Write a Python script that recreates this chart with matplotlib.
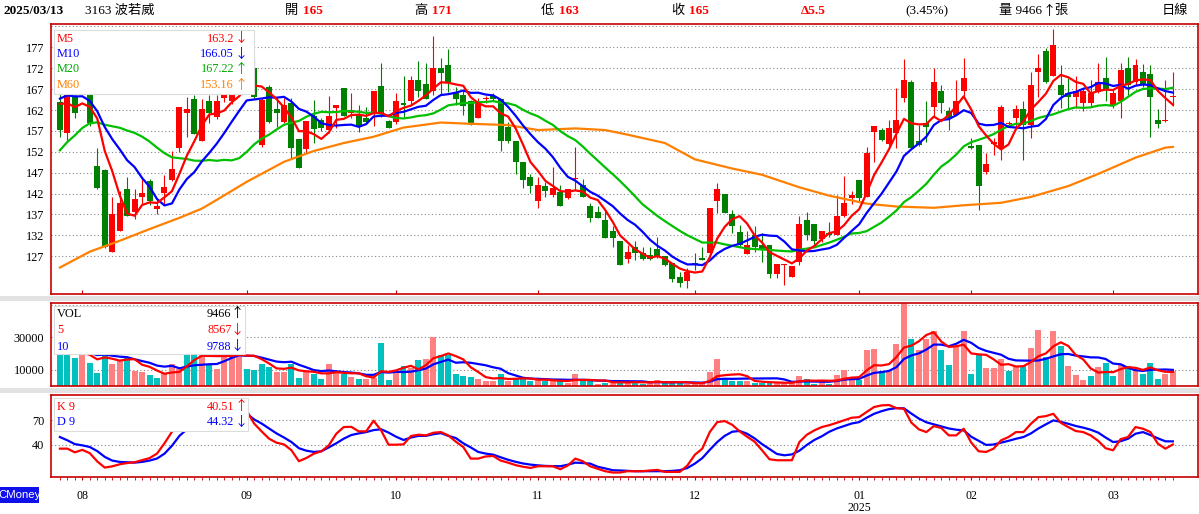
import numpy as np
import pandas as pd
import matplotlib
matplotlib.use("Agg")
import matplotlib.pyplot as plt
from matplotlib.patches import Rectangle

plt.rcParams['font.family'] = ['Liberation Serif', 'Noto Sans CJK TC', 'DejaVu Sans']

# daily sessions 2024/07/29 .. 2025/03/13 (150 candles)
opens = [164, 156.4, 165.2, 166.5, 168, 148.6, 147.6, 128.1, 133.1, 143.1,
         137.7, 141.3, 145.1, 138.2, 142.2, 145.2, 152.8, 161.2, 164.6, 154.6,
         164.2, 160.4, 164.8, 164.2, 166, 169.5, 172, 153.6, 167.6, 162.2,
         159.2, 163.6, 155, 152.7, 160.6, 159.6, 157.2, 162.4, 167.2, 161.4,
         161, 160, 161, 167.7, 159.4, 159.2, 163.7, 164.1, 169.2, 168.2,
         166.6, 172, 172.8, 166, 165.6, 164.1, 160.2, 164.6, 165.4, 164.6,
         158, 154.6, 149.6, 146, 140.3, 143.7, 141.7, 142.4, 140.9, 145.4,
         144, 139, 137.5, 135.7, 133.1, 130.6, 126.3, 129.3, 127.7, 127.4,
         128.7, 127.1, 125.5, 122, 121.2, 125.5, 126.5, 127.7, 140.3, 142,
         137.1, 132.7, 127.5, 132.1, 129.7, 129.7, 122.8, 125, 122.1, 125.7,
         135.7, 134.7, 131.1, 132.6, 132.1, 136.7, 140.9, 145.2, 141.3, 156.8,
         157.1, 153.8, 156.4, 164.8, 168.6, 154.6, 158.8, 162.8, 166.5, 161.8,
         160.8, 166.5, 153.3, 153.6, 147.2, 153.8, 152.8, 158.6, 160, 162.2,
         158.4, 171.2, 176.1, 170.1, 168.1, 166, 165.2, 163.7, 163.7, 166.4,
         169.6, 163.2, 164.2, 172, 168.6, 171, 170.5, 159.6, 159.4, 165]
highs = [166, 169, 166, 169.5, 168.5, 153, 147.8, 141.1, 142.7, 146,
         143.2, 145.4, 145.4, 140.5, 146.4, 152.2, 162.8, 165.2, 165.6, 164.6,
         165.6, 165.6, 166.5, 167, 170, 174, 174.5, 164.8, 168, 164.8,
         164.8, 164.8, 155, 159.4, 164.4, 160, 165.3, 163.2, 167.2, 166,
         163.2, 162.8, 166.5, 173.3, 159.6, 166, 170.1, 170.1, 173.8, 173.3,
         179.7, 174.4, 176.6, 167.6, 166.8, 164.4, 164.8, 165.4, 166, 164.6,
         159.2, 154.6, 149.6, 146.8, 146, 144.8, 148.4, 144, 143.1, 153.1,
         145.6, 139.8, 139, 138, 134.2, 130.6, 129.7, 130.6, 129.3, 129.3,
         131.7, 127.1, 125.5, 123.3, 124.1, 127.9, 129.3, 138.6, 144.6, 142,
         138, 134.6, 133, 134.2, 132.6, 129.7, 125.2, 125.2, 124.7, 136.6,
         137.7, 134.7, 133.1, 135.3, 141.7, 146.2, 142.6, 145.2, 153.1, 158.2,
         157.6, 159.6, 167.2, 174.1, 169.2, 158.4, 164.1, 172, 168.1, 162.8,
         169.2, 174.4, 155.2, 153.6, 151.6, 155.2, 163.2, 159.4, 163.2, 164.1,
         171.2, 175.5, 176.8, 181.5, 172.8, 169.6, 170.1, 167.2, 169.2, 173.2,
         174.6, 166.8, 173.2, 174.6, 174.1, 172.9, 172.8, 162.2, 169.2, 171]
lows = [155.6, 154.4, 160, 165.8, 158.2, 143, 129, 128.1, 133, 136.7,
        135.9, 139.3, 139.3, 137, 139.3, 145, 152, 155.6, 156.2, 154.6,
        158.8, 159.8, 164, 163.5, 165.5, 168.5, 164.8, 153.2, 158.8, 158,
        158.8, 150.4, 148.2, 151.6, 154.2, 157, 156.6, 157.6, 160.6, 160,
        156.8, 158.8, 158.2, 160.4, 157.6, 158.6, 160, 163.2, 165.2, 164.6,
        165.6, 165.6, 166.4, 163.2, 160.8, 158.4, 160.2, 163.6, 164.4, 152.2,
        154.2, 146.8, 143.3, 142.1, 138.6, 141.3, 141.3, 139.1, 140.8, 142.9,
        141.3, 135.3, 136.2, 131.3, 129.3, 124.8, 125.5, 126.1, 126.2, 126.2,
        126.6, 124.7, 120.9, 119.7, 119.3, 123.7, 126, 127.7, 137.3, 137.3,
        132.6, 129.5, 127.5, 128.1, 125.7, 121.7, 121.7, 120.1, 122.1, 124.9,
        130.9, 129.7, 130.5, 131.7, 132, 136.5, 139.6, 140.2, 141.3, 149.6,
        154.6, 153.5, 152.8, 163.8, 152.8, 153.4, 154.4, 160.4, 161.2, 157.2,
        160.8, 165.3, 152.6, 138, 146.7, 151.2, 150, 158, 157.6, 150,
        155.2, 165.2, 168.4, 170.1, 162.4, 162.4, 162.4, 161.8, 162.8, 166,
        164.1, 162.4, 160.2, 165.6, 168, 167.6, 155.6, 157.8, 159.2, 163]
closes = [157.2, 168, 161.2, 168.5, 158.8, 143.3, 129.3, 137.1, 139.7, 136.7,
          140.7, 142.1, 140.3, 139, 143.5, 148, 162.8, 162.2, 156.2, 162.2,
          161.2, 164.2, 165.6, 166, 169.5, 173, 165.2, 164.4, 159.2, 161.2,
          163.2, 152.8, 148.2, 159.4, 157.4, 157.6, 160.6, 163.2, 160.6, 162,
          158, 159.2, 166.5, 161, 157.8, 164.1, 163.2, 169.2, 166.6, 164.6,
          172, 170.8, 168.6, 164.6, 163, 158.4, 163.6, 164.8, 164.6, 154.6,
          154.6, 149.6, 145.2, 143.7, 144, 142.7, 143.4, 139.1, 143.1, 145.5,
          141.3, 136.2, 136.2, 131.3, 131.3, 124.9, 128, 127.7, 126.3, 126.3,
          126.9, 124.8, 121.6, 120.7, 123.3, 125.1, 126.1, 138.6, 143.1, 137.3,
          134.3, 129.7, 129.7, 129.1, 128.7, 122.8, 125.2, 125.1, 124.7, 134.7,
          132.1, 130.7, 133.1, 132.2, 136.6, 139.8, 141.7, 140.9, 151.6, 158.2,
          154.8, 157.6, 159.6, 169.2, 152.8, 153.6, 158, 168.6, 163.7, 160.2,
          164.1, 169.7, 153, 143.7, 149, 154.3, 162.8, 159, 162.2, 158.4,
          168.1, 172, 168.8, 177.5, 165.6, 165.2, 166.5, 166.5, 166, 168.6,
          166.8, 166, 171.6, 168.1, 172.8, 168.1, 165.2, 158.6, 159.5, 165]
# closes of the 19 sessions before the window (for the moving averages)
closes_before = [128, 130, 133, 136, 139, 141, 144, 147, 150, 152,
                 160, 164, 168, 170, 168, 167, 166, 164, 163]

volumes = [22000, 20000, 17300, 22000, 14300, 8200, 26000, 13300, 16100, 17700,
           9400, 8800, 6900, 4700, 7800, 13300, 10600, 24000, 24000, 21000,
           12600, 10200, 24000, 25000, 24000, 10200, 9600, 13700, 11800, 8800,
           8800, 13300, 5100, 9200, 7100, 4100, 13300, 8800, 7100, 5700,
           4100, 4100, 5000, 26500, 3500, 8800, 12200, 11000, 15700, 16300,
           30000, 19000, 19000, 7500, 6300, 5700, 4500, 3300, 3300, 7500,
           2900, 5100, 4500, 2900, 4100, 2900, 3300, 2900, 2000, 7500,
           2900, 3300, 1400, 2000, 2000, 2400, 3100, 2400, 1400, 2000,
           3900, 2000, 2000, 2000, 1400, 1400, 1800, 8800, 16700, 4500,
           3300, 2900, 2900, 2000, 2000, 2000, 2000, 2000, 2000, 6300,
           4500, 1500, 2400, 1400, 6900, 10000, 5100, 3500, 22400, 22800,
           9200, 9200, 25500, 51200, 29000, 22400, 28600, 34000, 22400, 12600,
           24500, 33500, 7100, 19400, 11200, 10800, 16700, 9000, 12200, 12200,
           23500, 34500, 17700, 33900, 24500, 12400, 6900, 3900, 6300, 11800,
           14100, 6300, 13300, 12200, 10000, 7500, 14100, 4500, 7500, 9466]
volumes_before = [20000, 22000, 19000, 24000, 21000, 23000, 20000, 22000, 21000]
vol_dir = ("DDDUDDDUUD" "UUDDUUUDDU" "DUUUUDDDDU" "UDDUDDUUDU" "DUUDDUDUDU"
           "UDDDDDUUUD" "UDDDUDUDUU" "DDUDUDUDDU" "UDDDUUUUUD" "DDUDDDUUUU"
           "DDUDUUUDUU" "DUUUDUUUDD" "UUDDUUUDUD" "UUDUDUUUDU" "DDUDUDDDUU")

k9 = [35.5, 35.5, 31, 34, 30, 20, 12.5, 14, 16.5, 18,
      19, 21.5, 24, 29.5, 42, 56, 68, 74, 72, 78,
      76, 82, 85, 88, 90, 82, 66, 56.5, 47.6, 42.7,
      40.7, 33.5, 20.2, 24.2, 29.4, 32.3, 39.5, 53.6, 61.7, 62,
      56.5, 56.5, 69.4, 57.7, 40.3, 40.3, 40.7, 50.8, 52.4, 51.6,
      54.8, 55.6, 51.6, 44, 37.5, 23.4, 23.4, 26, 26.6, 21,
      18.5, 15.5, 13.5, 12.1, 14.1, 14.1, 14.1, 10.5, 15, 23.4,
      20.2, 14, 11, 8.1, 6.5, 6.5, 8.1, 8.1, 8.1, 9,
      9.7, 7.3, 7.3, 7.3, 15, 28, 35.5, 55.6, 67.7, 69,
      64.5, 56.5, 50, 44, 33.5, 22.6, 21.4, 21.4, 21.4, 43.5,
      52.4, 57.7, 61.7, 64, 66.9, 70, 73, 73.8, 80, 86,
      88, 88.5, 84.7, 83.9, 67, 58.9, 55.6, 62.9, 60.5, 51.6,
      51.6, 59.7, 43, 32.3, 31.5, 35.5, 45.6, 49.6, 55.6, 55.6,
      65.7, 73.8, 75, 77.8, 66.9, 61.7, 56.9, 55.6, 51.6, 45,
      36, 33.5, 47, 49.6, 61.7, 59.7, 55.6, 41.5, 35.5, 40.51]
d9 = [49.6, 45.6, 41, 39.5, 37.5, 32.5, 25.5, 21, 19.4, 19,
      18.5, 19.4, 21, 23.5, 29.4, 39, 51, 59, 63, 68,
      70, 74, 78, 81, 84, 78, 71, 66, 60, 54,
      49, 43.5, 36, 33, 31.5, 32.3, 37, 42, 47.6, 52,
      54, 55.6, 58, 59, 55, 50, 46, 49, 51, 51,
      53, 54.4, 51, 48.4, 42, 37, 31.5, 29.5, 28.2, 25,
      22, 19.5, 17.5, 16.1, 15.2, 14.5, 14.3, 14.1, 16, 18.5,
      18, 17.3, 13.5, 11.5, 9.3, 9, 8.5, 8.1, 8.1, 8.1,
      8.1, 8.1, 8.5, 9.3, 12, 17.3, 24, 34, 43.5, 51,
      56, 57, 53.6, 48, 41, 35, 29, 27.4, 28.5, 33,
      40, 46, 50.5, 56, 60, 63, 66, 67.7, 73, 77.8,
      81, 83.5, 84.7, 84.5, 78, 72, 67.5, 65, 62.5, 60,
      58.5, 57.7, 50, 45, 40, 40.5, 42.7, 45, 47.5, 49.6,
      54, 60, 65, 69.8, 68, 65.7, 63, 61, 58.5, 55,
      49, 43.5, 44.5, 47.5, 53.6, 55.6, 52, 48, 44.4, 44.32]

# 60-day average (session index, value)
ma60_idx = [0, 4, 8, 12, 16, 19, 21, 25, 30, 34, 38, 42, 46, 51, 55, 60, 64, 69, 73, 76,
            78, 81, 85, 90, 94, 99, 103, 108, 112, 117, 121, 126, 130, 135, 139, 144, 148, 149]
ma60_val = [124.3, 128.1, 130.7, 133.5, 136.2, 138.4, 140.5, 144.8, 149.6, 152.2,
            154.1, 155.6, 157.8, 159.0, 158.7, 158.4, 157.2, 157.6, 157.2, 156.1,
            155.3, 154.1, 150.2, 148.0, 146.5, 143.5, 141.5, 139.6, 138.9, 138.6,
            139.2, 139.8, 141.2, 143.8, 146.7, 150.6, 153.0, 153.16]

month_idx = [3, 25, 45, 64, 85, 107, 122, 141]
month_lbl = ["08", "09", "10", "11", "12", "01\n2025", "02", "03"]
price_ticks = [127, 132, 137, 142, 147, 152, 157, 162, 167, 172, 177]
price_grid = price_ticks + [182]

RED = '#ff0000'
GREEN = '#008000'
BLUE = '#0000ff'
LGREEN = '#00c000'
ORANGE = '#ff8000'
BORDER = '#c80000'
ARROW_FONT = ['Noto Sans CJK TC', 'DejaVu Sans']

W, H = 1199, 514
fig = plt.figure(figsize=(W / 100, H / 100), dpi=100)


def rect(top, bottom, left=50.5, right=1197.5):
    return [left / W, 1 - bottom / H, (right - left) / W, (bottom - top) / H]


def fx(px):
    return px / W


def fy(py):
    return 1 - py / H


# grey separator bands
for t, b in [(295.5, 301), (387.5, 393)]:
    fig.add_artist(Rectangle((0, fy(b)), 1, (b - t) / H, transform=fig.transFigure,
                             facecolor='#e2e2e2', edgecolor='none', zorder=0))

ax_p = fig.add_axes(rect(23.5, 294.3))
ax_v = fig.add_axes(rect(302.7, 386))
ax_k = fig.add_axes(rect(394.7, 477.3))

n = len(closes)
x = np.arange(n)
o = np.array(opens)
h = np.array(highs)
l = np.array(lows)
c = np.array(closes)

cs = pd.Series(closes_before + closes)
off = len(closes_before)
ma5 = cs.rolling(5).mean().values[off:]
ma10 = cs.rolling(10).mean().values[off:]
ma20 = cs.rolling(20).mean().values[off:]

vs = pd.Series(volumes_before + volumes)
voff = len(volumes_before)
vma5 = vs.rolling(5).mean().values[voff:]
vma10 = vs.rolling(10).mean().values[voff:]

for ax in (ax_p, ax_v, ax_k):
    ax.set_xlim(-1.26, 152.3)
    for s in ax.spines.values():
        s.set_color(BORDER)
        s.set_linewidth(1.2)
    ax.tick_params(axis='y', length=0, labelsize=8.8, pad=4.5)

# price panel
for g in price_grid:
    ax_p.axhline(g, color='#8a8a8a', lw=0.8, ls=(0, (1, 2.2)), zorder=0)
up = c >= o
col = np.where(up, RED, GREEN)
ax_p.vlines(x, l, h, colors=col, lw=0.8, zorder=2)
body = np.maximum(np.abs(c - o), 0.25)
ax_p.bar(x, body, bottom=np.minimum(o, c), width=0.8, color=col, zorder=2)
ax_p.plot(ma60_idx, ma60_val, color=ORANGE, lw=1.6, zorder=3)
ax_p.plot(x, ma20, color=LGREEN, lw=1.6, zorder=3)
ax_p.plot(x, ma10, color=BLUE, lw=1.6, zorder=3)
ax_p.plot(x, ma5, color=RED, lw=1.6, zorder=3)
ax_p.set_ylim(117.9, 182.7)
ax_p.set_yticks(price_ticks)
ax_p.set_xticks(month_idx)
ax_p.tick_params(axis='x', direction='in', length=3, color=BORDER, labelbottom=False)

# volume panel
for g in [10000, 30000, 50000]:
    ax_v.axhline(g, color='#8a8a8a', lw=0.8, ls=(0, (1, 2.2)), zorder=0)
vcol = ['#ff8080' if d == 'U' else '#00c0c0' for d in vol_dir]
ax_v.bar(x, volumes, width=0.8, color=vcol, zorder=2)
ax_v.plot(x, vma10, color=BLUE, lw=1.6, zorder=3)
ax_v.plot(x, vma5, color=RED, lw=1.6, zorder=3)
ax_v.set_ylim(0, 51160)
ax_v.set_yticks([10000, 30000])
ax_v.set_yticklabels(['10000', '30000'])
ax_v.set_xticks([])

# KD panel
for g in [40, 70]:
    ax_k.axhline(g, color='#8a8a8a', lw=0.8, ls=(0, (1, 2.2)), zorder=0)
ax_k.plot(x, d9, color=BLUE, lw=1.6, zorder=3)
ax_k.plot(x, k9, color=RED, lw=1.6, zorder=3)
ax_k.set_ylim(0.7, 101)
ax_k.set_yticks([40, 70])
ax_k.set_xticks(x, minor=True)
ax_k.set_xticks(month_idx)
ax_k.set_xticklabels(month_lbl, linespacing=1.05)
ax_k.tick_params(axis='x', which='both', direction='out', length=2.5, color=BORDER,
                 labelsize=8.6, pad=6.5)


def legend_box(left, top, right, bottom):
    fig.add_artist(Rectangle((fx(left), fy(bottom)), (right - left) / W, (bottom - top) / H,
                             transform=fig.transFigure, facecolor='white',
                             edgecolor='#dcdcdc', lw=0.8, zorder=5))


def ftext(px, py, s, color='black', ha='left', size=8.8, **kw):
    fig.text(fx(px), fy(py), s, color=color, ha=ha, va='center', fontsize=size, zorder=6, **kw)


def arrow(px, py, s, color):
    ftext(px, py, s, color, ha='center', size=9.5, family=ARROW_FONT)


legend_box(53.5, 29.5, 254, 94)
ma_rows = [("M5", "163.2", "↓", RED, 38.5), ("M10", "166.05", "↓", BLUE, 54),
           ("M20", "167.22", "↑", '#00a800', 69.5), ("M60", "153.16", "↑", ORANGE, 85.5)]
for name, val, arr, clr, yy in ma_rows:
    ftext(57, yy, name, clr)
    ftext(234, yy, val, clr, ha='right')
    arrow(241.5, yy, arr, clr)

legend_box(53.5, 305.5, 245, 354)
vol_rows = [("VOL", "9466", "↑", 'black', 314), ("5", "8567", "↓", RED, 330),
            ("10", "9788", "↓", BLUE, 346.5)]
for name, val, arr, clr, yy in vol_rows:
    ftext(57, yy, name, clr)
    ftext(231.5, yy, val, clr, ha='right')
    arrow(237.5, yy, arr, clr)

legend_box(53.5, 397.5, 248, 430.5)
kd_rows = [("K 9", "40.51", "↑", RED, 406.5), ("D 9", "44.32", "↓", BLUE, 422)]
for name, val, arr, clr, yy in kd_rows:
    ftext(57, yy, name, clr)
    ftext(234.5, yy, val, clr, ha='right')
    arrow(241, yy, arr, clr)

# header line
hy = 11
ftext(3.5, hy, "2025/03/13", size=9.5, fontweight='bold')
ftext(85, hy, "3163 波若威", size=9.5)
for lab, val, px in [("開", "165", 285), ("高", "171", 414), ("低", "163", 541), ("收", "165", 671)]:
    ftext(px, hy, lab, size=9.5)
    ftext(px + 18, hy, val, RED, size=9.5, fontweight='bold')
ftext(800.5, hy, "Δ5.5", RED, size=9.5, fontweight='bold')
ftext(905.5, hy, "(3.45%)", size=9.5)
ftext(999, hy, "量 9466", size=9.5)
arrow(1049, hy, "↑", 'black')
ftext(1054, hy, "張", size=9.5)
ftext(1161.5, hy, "日線", size=9.5)

# brand tag
fig.add_artist(Rectangle((0, fy(502.5)), 39 / W, 15.5 / H, transform=fig.transFigure,
                         facecolor='#1010e8', edgecolor='none', zorder=5))
fig.text(fx(19.5), fy(495), "CMoney", color='white', ha='center', va='center',
         fontsize=8.2, family=['Liberation Sans', 'DejaVu Sans'], zorder=6)

fig.savefig("out.png", dpi=100)
